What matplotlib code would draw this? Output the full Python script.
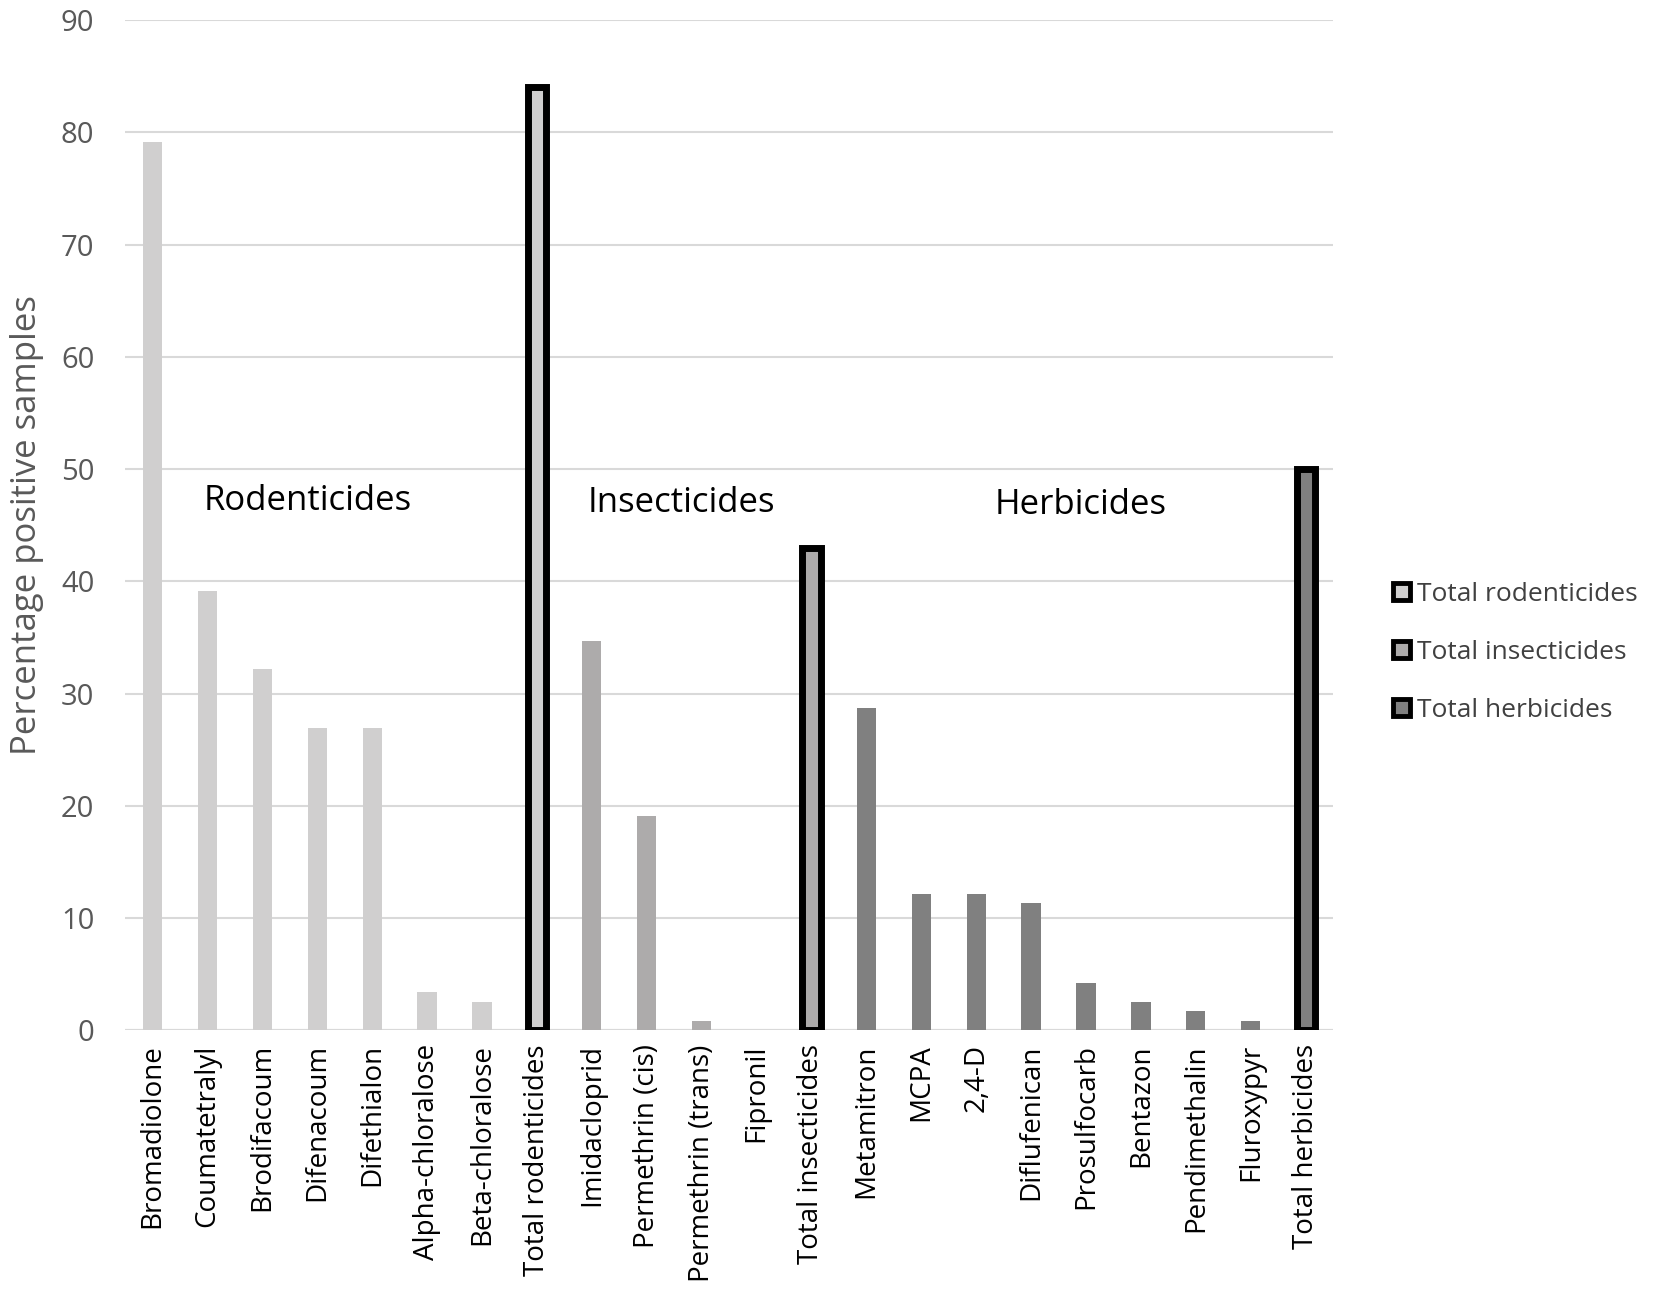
import numpy as np
import matplotlib.pyplot as plt
from matplotlib.patches import Patch

# Data
categories = ['Bromadiolone', 'Coumatetralyl', 'Brodifacoum', 'Difenacoum', 'Difethialon',
              'Alpha-chloralose', 'Beta-chloralose', 'Total rodenticides',
              'Imidacloprid', 'Permethrin (cis)', 'Permethrin (trans)', 'Fipronil',
              'Total insecticides',
              'Metamitron', 'MCPA', '2,4-D', 'Diflufenican', 'Prosulfocarb', 'Bentazon',
              'Pendimethalin', 'Fluroxypyr', 'Total herbicides']
values = [79.1, 39.1, 32.2, 26.9, 26.9, 3.4, 2.5, 84.0,
          34.7, 19.1, 0.85, 0.0, 43.0,
          28.7, 12.1, 12.1, 11.3, 4.25, 2.5, 1.7, 0.85, 50.0]
groups = ['rod'] * 8 + ['ins'] * 5 + ['herb'] * 9
is_total = [c.startswith('Total') for c in categories]

group_colors = {'rod': '#d0cfcf', 'ins': '#adabab', 'herb': '#808080'}
group_names = ['Rodenticides', 'Insecticides', 'Herbicides']
group_label_x = [2.82, 9.63, 16.9]
group_label_y = [47.2, 47.0, 46.8]
legend_labels = ['Total rodenticides', 'Total insecticides', 'Total herbicides']

plt.rcParams['font.family'] = ['Open Sans', 'DejaVu Sans']

fig = plt.figure(figsize=(16.54, 13.07), dpi=100)
ax = fig.add_axes([0.0756, 0.2117, 0.7304, 0.7729])

x = np.arange(len(categories))
for i in range(len(categories)):
    if is_total[i]:
        ax.bar(x[i], values[i], width=0.33, color=group_colors[groups[i]],
               edgecolor='black', linewidth=5, zorder=3)
    else:
        ax.bar(x[i], values[i], width=0.35, color=group_colors[groups[i]], zorder=3)

ax.set_xlim(-0.5, len(categories) - 0.5)
ax.set_ylim(0, 90)
ax.set_yticks(np.arange(0, 91, 10))
ax.yaxis.grid(True, color='#d9d9d9', linewidth=1.5, zorder=0)
ax.axhline(0, color='#d9d9d9', linewidth=1.5, zorder=1)
ax.set_axisbelow(True)
for s in ax.spines.values():
    s.set_visible(False)

ax.set_xticks(x)
ax.set_xticklabels(categories, rotation=90, fontsize=20, color='black')
ax.tick_params(axis='both', length=0)
ax.tick_params(axis='x', pad=10)
ax.tick_params(axis='y', labelsize=21, labelcolor='#595959', pad=22)
ax.set_ylabel('Percentage positive samples', fontsize=25, color='#595959', labelpad=12)

for name, gx, gy in zip(group_names, group_label_x, group_label_y):
    ax.text(gx, gy, name, fontsize=25, ha='center', va='center', color='black')

handles = [Patch(facecolor=group_colors[g], edgecolor='black', linewidth=3.5)
           for g in ['rod', 'ins', 'herb']]
fig.legend(handles, legend_labels, loc='center left', bbox_to_anchor=(0.828, 0.501),
           frameon=False, fontsize=19, labelcolor='#404040', handlelength=0.65,
           handleheight=0.65, handletextpad=0.25, labelspacing=1.25)

fig.savefig('out.png', dpi=100)
